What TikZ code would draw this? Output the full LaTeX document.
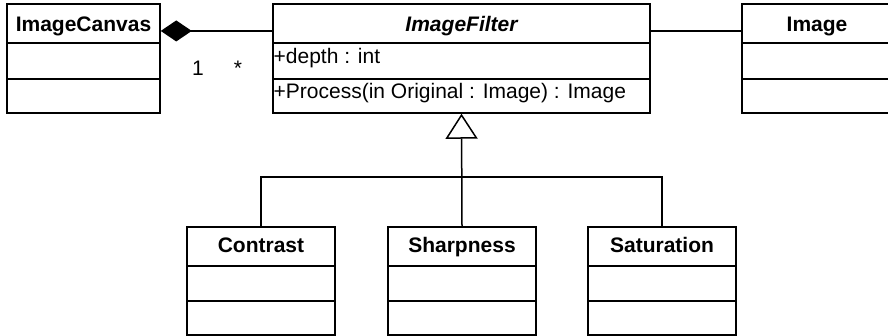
\documentclass[tikz,border=0pt]{standalone}
\usepackage{fontspec}
\setmainfont{Liberation Sans}
\usetikzlibrary{arrows.meta,calc}

\tikzset{
  classbox/.style={draw, line width=1.5pt, inner sep=0pt, fill=white},
  sepline/.style={line width=1.5pt},
  conn/.style={line width=1.5pt},
  ctitle/.style={anchor=base, inner sep=0pt, font=\fontsize{21}{25}\selectfont\bfseries},
  member/.style={anchor=base west, inner sep=0pt, font=\fontsize{21}{25}\selectfont},
  mult/.style={anchor=base, inner sep=0pt, font=\fontsize{21}{25}\selectfont},
}

\begin{document}
\begin{tikzpicture}[x=1pt, y=-1pt]
\useasboundingbox (0,0) rectangle (888,336);
\clip (0,0) rectangle (888,336);

% ---- ImageCanvas ----
\node[classbox, minimum width=153pt, minimum height=109pt] (canvas) at (83.5,58.5) {};
\draw[sepline] (canvas.west |- 0,43) -- (canvas.east |- 0,43);
\draw[sepline] (canvas.west |- 0,79) -- (canvas.east |- 0,79);
\node[ctitle] (canvas-t) at (83.5,32) {ImageCanvas};

% ---- ImageFilter ----
\node[classbox, minimum width=377pt, minimum height=109pt] (filter) at (461.5,58.5) {};
\draw[sepline] (filter.west |- 0,43) -- (filter.east |- 0,43);
\draw[sepline] (filter.west |- 0,79) -- (filter.east |- 0,79);
\node[ctitle, font=\fontsize{21}{25}\selectfont\bfseries\itshape] (filter-t) at (461.5,32) {ImageFilter};
\node[member] (filter-a) at (273.5,64) {+depth : int};
\node[member] (filter-o) at (273.5,99) {+Process(in Original : Image) : Image};

% ---- Image ----
\node[classbox, minimum width=150pt, minimum height=109pt] (image) at (817,58.5) {};
\draw[sepline] (image.west |- 0,43) -- (image.east |- 0,43);
\draw[sepline] (image.west |- 0,79) -- (image.east |- 0,79);
\node[ctitle] (image-t) at (817,32) {Image};

% ---- Subclasses ----
\node[classbox, minimum width=148pt, minimum height=108pt] (contrast) at (261,281) {};
\draw[sepline] (contrast.west |- 0,266) -- (contrast.east |- 0,266);
\draw[sepline] (contrast.west |- 0,301) -- (contrast.east |- 0,301);
\node[ctitle] (contrast-t) at (261,253) {Contrast};

\node[classbox, minimum width=148pt, minimum height=108pt] (sharpness) at (462,281) {};
\draw[sepline] (sharpness.west |- 0,266) -- (sharpness.east |- 0,266);
\draw[sepline] (sharpness.west |- 0,301) -- (sharpness.east |- 0,301);
\node[ctitle] (sharpness-t) at (462,253) {Sharpness};

\node[classbox, minimum width=148pt, minimum height=108pt] (saturation) at (662,281) {};
\draw[sepline] (saturation.west |- 0,266) -- (saturation.east |- 0,266);
\draw[sepline] (saturation.west |- 0,301) -- (saturation.east |- 0,301);
\node[ctitle] (saturation-t) at (662,253) {Saturation};

% ---- Composition: ImageCanvas <>-- ImageFilter ----
\draw[conn, {Diamond[length=31pt, width=21pt]}-]
  ($(canvas.north east)+(0,27.7)$) -- ($(filter.north west)+(0,27.7)$);
\node[mult] (m-one) at (198,76) {1};
\node[mult] (m-many) at (238,76) {*};

% ---- Association: ImageFilter -- Image ----
\draw[conn] ($(filter.north east)+(0,27.7)$) -- ($(image.north west)+(0,27.7)$);

% ---- Generalization ----
\draw[conn] (contrast.north) -- ++(0,-49) -| (saturation.north);
\draw[conn, -{Triangle[open, length=25pt, width=32pt]}] (sharpness.north) -- (filter.south);

\end{tikzpicture}
\end{document}
